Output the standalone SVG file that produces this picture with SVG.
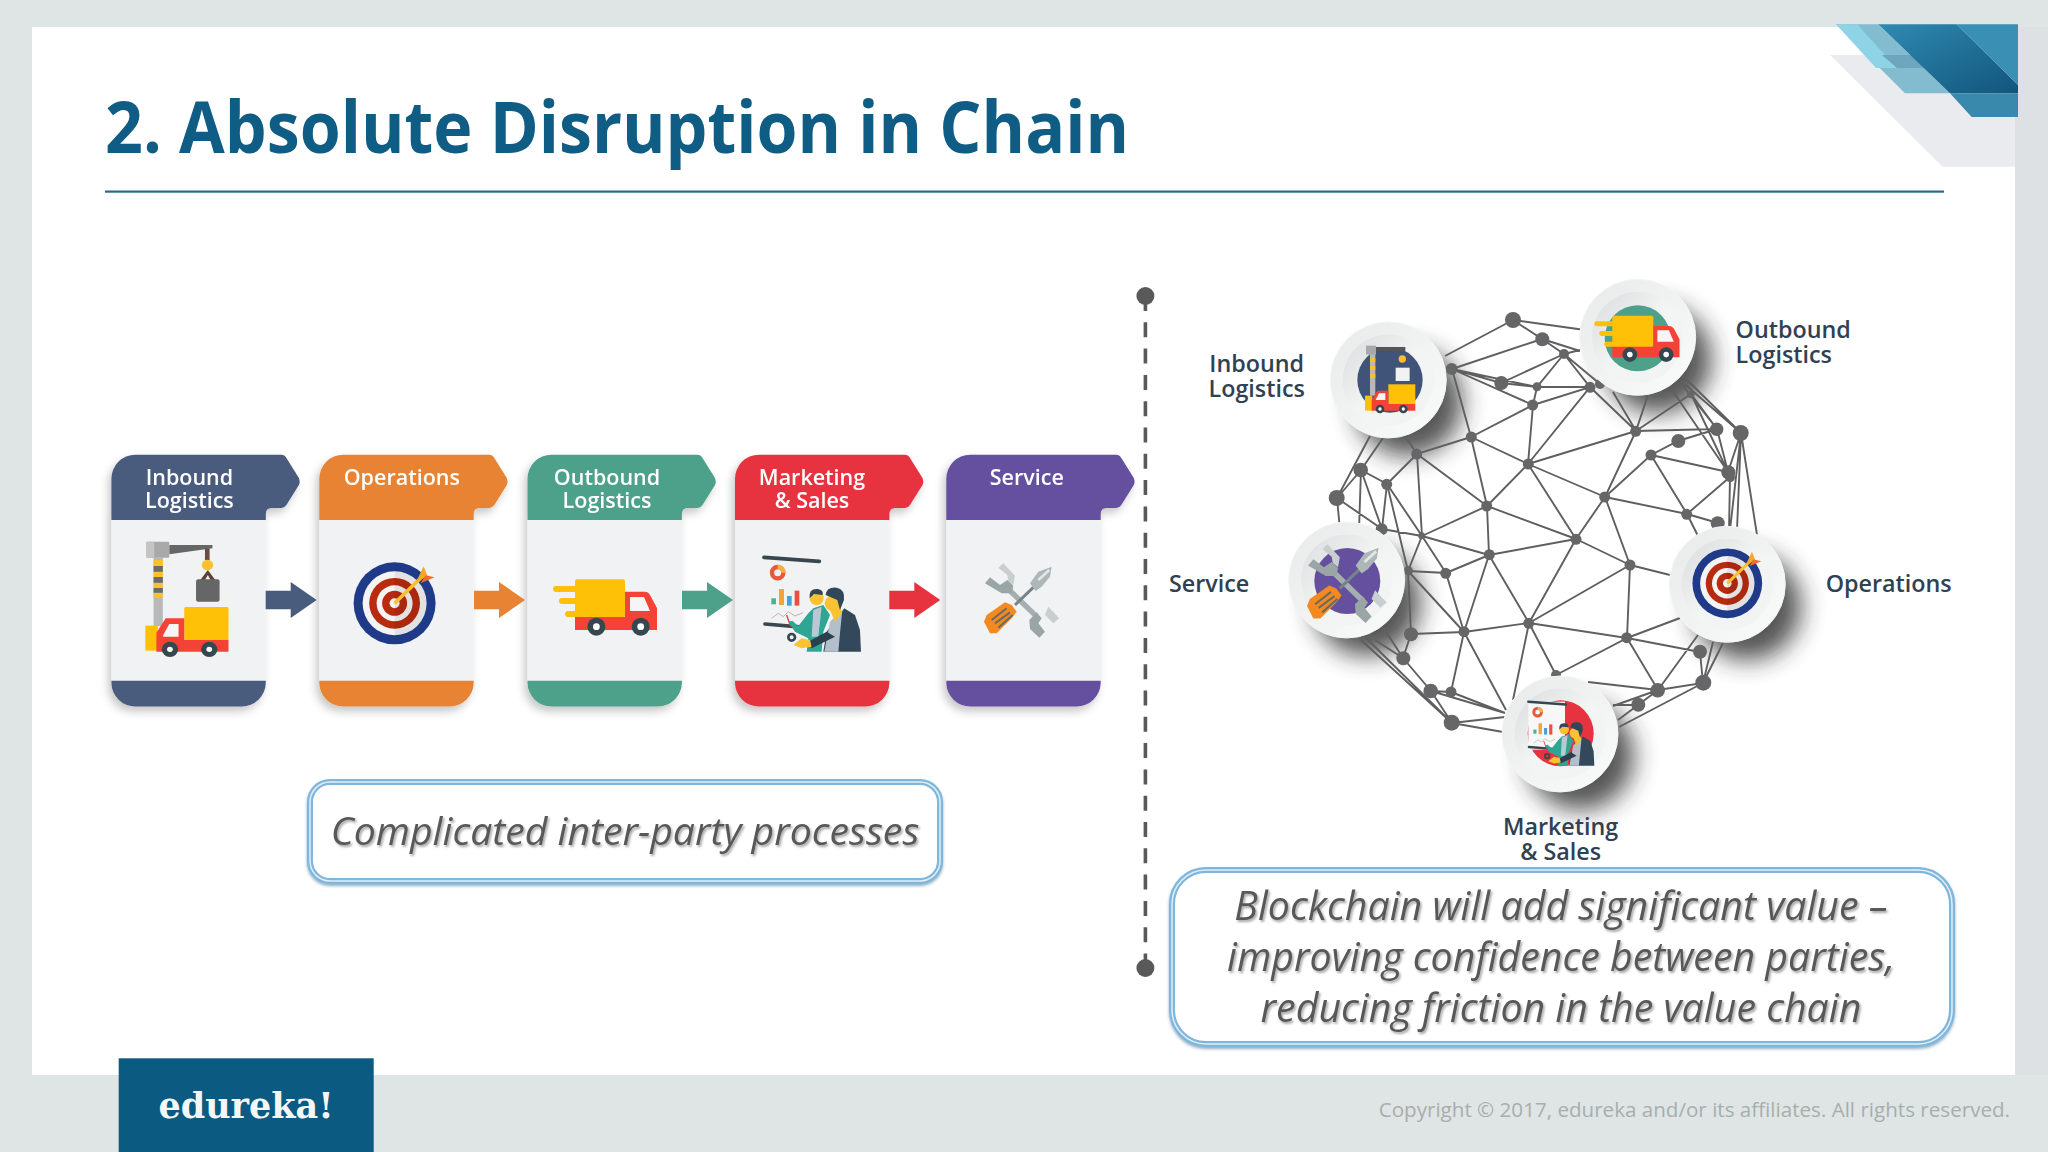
<svg xmlns="http://www.w3.org/2000/svg" width="2048" height="1152" viewBox="0 0 2048 1152">
<style>
text{font-family:"Open Sans","Noto Sans","Liberation Sans",sans-serif}
.title{font-size:71px;font-weight:700;fill:#0f5c85}
.cl{font-size:21.5px;font-weight:600;fill:#fff;text-anchor:middle}
.rl{font-size:23.3px;font-weight:600;fill:#2f4152}
.bt{font-style:italic;fill:#595959;text-anchor:middle;filter:url(#ts)}
.copy{font-size:20.6px;fill:#a8adad;text-anchor:end}
.net{fill:none;stroke:#5f5f60;stroke-width:1.9}
.nd circle{fill:#666668}
.box{fill:#fff;stroke:#7fb6dc;stroke-width:6;filter:url(#bs)}
.box2{fill:none;stroke:#e2eef7;stroke-width:1.5}
</style>
<defs>
<filter id="ts" x="-5%" y="-20%" width="110%" height="140%"><feDropShadow dx="1.5" dy="2" stdDeviation="1.2" flood-color="#000" flood-opacity=".35"/></filter>
<filter id="bs" x="-5%" y="-10%" width="110%" height="120%"><feDropShadow dx="0" dy="2" stdDeviation="1.5" flood-color="#2f6d99" flood-opacity=".55"/></filter>
<filter id="cs" x="-10%" y="-10%" width="120%" height="120%"><feDropShadow dx="-3" dy="5" stdDeviation="4" flood-color="#000" flood-opacity=".22"/></filter>
<filter id="ps" x="-60%" y="-60%" width="220%" height="220%"><feGaussianBlur stdDeviation="12"/></filter>
<linearGradient id="po" x1="0" y1="0" x2="1" y2="1"><stop offset="0" stop-color="#e8eaea"/><stop offset="1" stop-color="#fafbfb"/></linearGradient>
<linearGradient id="pi" x1="0" y1="0" x2="1" y2="1"><stop offset="0" stop-color="#d9dddd"/><stop offset=".5" stop-color="#f3f4f4"/><stop offset="1" stop-color="#f1f2f2"/></linearGradient>
<linearGradient id="bl" x1="0" y1="0" x2="1" y2="1"><stop offset="0" stop-color="#2f8ab2"/><stop offset="1" stop-color="#12557c"/></linearGradient>
<path id="hdr" d="M0 520V479A24 24 0 0 1 24 454.7H170Q173 454.7 175 458L187.5 478Q189 482 187.5 485L175 505Q173 508 170 508H160Q154.4 508 154.4 514V520Z"/>
<path id="ftr" d="M0 680.7H154.4V683A24 24 0 0 1 130 706.5H24A24 24 0 0 1 0 683Z"/>
<path id="arr" d="M0 -9.2H25V-18L51 0L25 18V9.2H0Z"/>
<g id="plate">
<circle r="58" fill="url(#po)" stroke="#f4f5f5" stroke-width="1"/>
<circle r="45.5" fill="url(#pi)"/>
</g>
<g id="shadow"><circle cx="20" cy="22" r="54" fill="#2b2b2b" opacity=".8" filter="url(#ps)"/></g>
<g id="target">
<circle r="41" fill="#1f3a88"/><circle r="32" fill="#f4f4f4"/><circle r="25.4" fill="#b92b0e"/><circle r="18" fill="#f4f4f4"/><circle r="12.5" fill="#b92b0e"/><circle r="5" fill="#f4f4f4"/>
<path d="M0 -32A32 32 0 0 1 0 32Z" fill="#000" opacity=".07"/>
<path d="M0 0L29 -28" stroke="#fbc02d" stroke-width="3.6"/>
<path d="M22 -22L29 -37L33 -27Z" fill="#f9a825"/><path d="M26 -20L40 -26L31 -28Z" fill="#ef6c2c"/>
</g>
<g id="ftruck">
<path d="M556 589H575M562 601H575M568 614H575" stroke="#ffc107" stroke-width="6" stroke-linecap="round"/>
<rect x="575" y="579.3" width="50" height="38" rx="2" fill="#ffc107"/>
<path d="M575 617H625V591.7H645Q648 591.7 650 595L657 608V630H575Z" fill="#f44336"/>
<path d="M630 597H644L650 611H630Z" fill="#f5f5f5"/>
<circle cx="596.4" cy="626.7" r="9" fill="#37474f"/><circle cx="596.4" cy="626.7" r="3.4" fill="#fff"/>
<circle cx="640.7" cy="626.7" r="9" fill="#37474f"/><circle cx="640.7" cy="626.7" r="3.4" fill="#fff"/>
</g>
<g id="tools">
<path d="M85 38L100 25L135 62L130 90L115 78L112 60Z" fill="#c9cfcf"/>
<path d="M235 155L268 190L250 205L225 180Z" fill="#c9cfcf"/>
<path d="M118 105L200 185" stroke="#a5afaf" stroke-width="16"/>
<path d="M45 85L60 67L90 90L112 75L130 92L125 115L95 115Z" fill="#9aa5a5"/>
<path d="M178 195L200 172L215 190L205 205L225 230L208 248L180 222Z" fill="#9aa5a5"/>
<path d="M135 150L190 97" stroke="#76838a" stroke-width="9"/>
<path d="M180 85L205 50L245 35L240 65L215 95L197 108Z" fill="#aeb7b7"/>
<path d="M205 75L238 45" stroke="#e2e6e6" stroke-width="8"/>
<path d="M42 200L50 180L105 142L125 150L140 170L125 190L80 235L60 235Z" fill="#f28a21"/>
<path d="M65 195L110 160M75 205L120 172M85 218L128 180" stroke="#6b6a60" stroke-width="6"/>
</g>
<g id="present">
<path d="M372 352L538 364" stroke="#37474f" stroke-width="11" stroke-linecap="round"/>
<circle cx="413" cy="398" r="17" fill="none" stroke="#e8593c" stroke-width="13"/>
<path d="M413 381A17 17 0 0 1 430 398" fill="none" stroke="#f5b041" stroke-width="13"/>
<rect x="394" y="475" width="14" height="18" fill="#4db38f"/><rect x="417" y="447" width="15" height="48" fill="#f2a33a"/><rect x="441" y="468" width="14" height="29" fill="#4a9fd8"/><rect x="464" y="452" width="14" height="45" fill="#e8503f"/>
<path d="M395 535L415 520L430 530L445 515L465 528L490 518" fill="none" stroke="#b5a5a5" stroke-width="2.5"/>
<path d="M375 552L495 562" stroke="#37474f" stroke-width="11" stroke-linecap="round"/>
<circle cx="455" cy="592" r="10" fill="none" stroke="#37474f" stroke-width="8"/>
<path d="M440 525L452 560" stroke="#e53935" stroke-width="4"/>
<path d="M520 505L550 495L570 525L550 575L545 635H500L505 595L465 575L445 545L457 542L475 558L505 520Z" fill="#2fa593"/>
<path d="M520 510L545 500L535 590L515 590Z" fill="#b7c9d4"/>
<path d="M550 635L560 575L613 505L645 525L660 570L663 635Z" fill="#33485a"/>
<path d="M553 635L570 545L607 510L600 580L595 635Z" fill="#b3c0cc"/>
<path d="M505 605L560 575L585 590L515 625Z" fill="#2c3f4f"/>
<path d="M460 615L485 595L510 600L515 620L485 625Z" fill="#f9c233"/>
<circle cx="530" cy="475" r="21" fill="#f9c233"/><path d="M509 475Q505 445 533 447Q552 450 548 465L522 462Z" fill="#314656"/>
<path d="M570 510L600 490L605 520L585 545Z" fill="#f9c233"/>
<circle cx="577" cy="490" r="23" fill="#f9c233"/><path d="M557 465Q560 440 590 443Q615 447 612 480L600 510L592 480Z" fill="#314656"/>
</g>
</defs>

<rect width="2048" height="1152" fill="#dfe5e4"/>
<rect x="2015" y="27" width="33" height="1048" fill="#dde1e4"/>
<rect x="32" y="27" width="1983" height="1048" fill="#fff"/>

<g id="corner">
<path d="M1830 55H2015V166.7H1942.7Z" fill="#e9ebef"/>
<path d="M1836 24.3H1878.3L1950 93.3H1905Z" fill="#84bccf"/>
<path d="M1836 24.3H1857L1897 68H1876Z" fill="#8fd3e6"/>
<path d="M1882 55H1913L1927 68H1897Z" fill="#6ea6bd"/>
<path d="M1878.3 24.3H1956.7L2018 85V93.3H1950Z" fill="url(#bl)"/>
<path d="M1956.7 24.3H2018V85Z" fill="#3a8fb5"/>
<path d="M1950 93.3H2018V117H1971.7Z" fill="#3889ab"/>
</g>

<text class="title" x="105" y="153" textLength="1024" lengthAdjust="spacingAndGlyphs">2. Absolute Disruption in Chain</text>
<rect x="105" y="190.5" width="1839" height="2.2" fill="#2a6a85"/>

<g id="card-inbound" transform="translate(111.4 0)" filter="url(#cs)">
<rect y="518" width="154.4" height="165" fill="#f1f2f3"/><use href="#hdr" fill="#4a5c7e"/><use href="#ftr" fill="#4a5c7e"/>
<text class="cl"><tspan x="78" y="485">Inbound</tspan><tspan x="78" y="508">Logistics</tspan></text>
</g>
<g id="card-operations" transform="translate(319.3 0)" filter="url(#cs)">
<rect y="518" width="154.4" height="165" fill="#f1f2f3"/><use href="#hdr" fill="#e78332"/><use href="#ftr" fill="#e78332"/>
<text class="cl" x="82.5" y="485">Operations</text>
</g>
<g id="card-outbound" transform="translate(527.5 0)" filter="url(#cs)">
<rect y="518" width="154.4" height="165" fill="#f1f2f3"/><use href="#hdr" fill="#4da18b"/><use href="#ftr" fill="#4da18b"/>
<text class="cl"><tspan x="79.5" y="485">Outbound</tspan><tspan x="79.5" y="508">Logistics</tspan></text>
</g>
<g id="card-marketing" transform="translate(735 0)" filter="url(#cs)">
<rect y="518" width="154.4" height="165" fill="#f1f2f3"/><use href="#hdr" fill="#e73340"/><use href="#ftr" fill="#e73340"/>
<text class="cl"><tspan x="77" y="485">Marketing</tspan><tspan x="77" y="508">&amp; Sales</tspan></text>
</g>
<g id="card-service" transform="translate(946.3 0)" filter="url(#cs)">
<rect y="518" width="154.4" height="165" fill="#f1f2f3"/><use href="#hdr" fill="#65509f"/><use href="#ftr" fill="#65509f"/>
<text class="cl" x="80.5" y="485">Service</text>
</g>

<g id="icon-crane" transform="translate(90 440) scale(.357 .3333)">
<rect x="178" y="353" width="26" height="205" fill="#b8b8b8"/>
<path d="M178 360h26v18h-26zM178 395h26v16h-26zM178 428h26v16h-26zM178 458h26v16h-26z" fill="#fbc02d"/>
<path d="M178 378h26v17h-26zM178 411h26v17h-26zM178 444h26v14h-26z" fill="#6b6b6b"/>
<path d="M222 315H343V325L222 343Z" fill="#666"/>
<rect x="158" y="305" width="64" height="48" rx="3" fill="#a9a9a9"/><rect x="158" y="305" width="22" height="48" rx="3" fill="#c4c4c4"/>
<rect x="322" y="325" width="13" height="35" fill="#6d4c41"/>
<path d="M330 390L309 420H351Z" fill="#5d4037"/><path d="M330 405L322 420H338Z" fill="#eee"/>
<circle cx="329" cy="375" r="16" fill="#fbc02d"/>
<rect x="297" y="418" width="66" height="67" rx="6" fill="#666"/>
<rect x="264" y="501" width="124" height="100" rx="4" fill="#ffc107"/>
<rect x="155" y="557" width="35" height="75" fill="#ffc107"/>
<path d="M186 635V578L212 535H264V600H388V635Z" fill="#f44336"/>
<path d="M205 585L222 552H248V590H205Z" fill="#f5f5f5"/>
<circle cx="224" cy="628" r="23" fill="#37474f"/><circle cx="224" cy="628" r="8" fill="#fff"/>
<circle cx="334" cy="628" r="23" fill="#37474f"/><circle cx="334" cy="628" r="8" fill="#fff"/>
</g>
<use id="icon-target" href="#target" transform="translate(394.6 603.3)"/>
<use id="icon-truck" href="#ftruck"/>
<use id="icon-present" href="#present" transform="translate(640 440) scale(.3333)"/>
<use id="icon-tools" href="#tools" transform="translate(970 555) scale(.3333)"/>

<g id="connectors">
<use href="#arr" transform="translate(265.7 600)" fill="#4a5c7e"/>
<use href="#arr" transform="translate(474 600)" fill="#e78332"/>
<use href="#arr" transform="translate(682 600)" fill="#4da18b"/>
<use href="#arr" transform="translate(889.3 600)" fill="#e73340"/>
<path d="M1145.4 296V968" fill="none" stroke="#595959" stroke-width="3.6" stroke-dasharray="15 11.3"/>
</g>
<g id="divider-ends" fill="#595959"><circle cx="1145.4" cy="296" r="9"/><circle cx="1145.4" cy="968" r="9"/></g>

<use href="#shadow" transform="translate(1388.3 380)"/>
<use href="#shadow" transform="translate(1637.7 337.3)"/>
<use href="#shadow" transform="translate(1727.3 584.3)"/>
<use href="#shadow" transform="translate(1346.7 580)"/>
<use href="#shadow" transform="translate(1560 734)"/>

<g id="network">
<path class="net" d="M1513 320L1445 356M1513 320L1585 330M1513 320L1542 339L1564 354M1542 339L1580 351M1564 354L1580 350M1452 369L1542 339M1452 369L1501 383L1564 354M1452 369L1537 387M1452 369L1533 405M1501 383L1537 387M1564 354L1537 387L1533 405M1537 387L1590 387M1564 354L1590 387L1636 431M1564 354L1600 384M1613 392L1636 431M1648 395L1636 431L1691 394M1636 431L1717 429M1636 431L1528 464M1636 431L1605 497M1533 405L1590 387L1528 464M1533 405L1471 437M1533 405L1528 464M1452 369L1471 437L1417 454L1405 436M1471 437L1528 464M1471 437L1487 506M1417 454L1487 506M1417 454L1387 484M1417 454L1422 536M1528 464L1487 506M1528 464L1605 497M1528 464L1576 539M1487 506L1422 536M1487 506L1489 555M1487 506L1576 539M1605 497L1576 539M1605 497L1687 514M1605 497L1651 455L1678 441L1717 429M1605 497L1630 565M1651 455L1728 472M1651 455L1687 514L1730 477M1687 514L1718 523M1687 514L1700 540M1576 539L1489 555M1576 539L1630 565M1576 539L1529 623M1630 565L1690 580M1630 565L1529 623M1630 565L1627 638M1489 555L1422 536M1489 555L1446 573M1489 555L1464 632M1489 555L1529 623M1422 536L1446 573M1422 536L1408 571M1422 536L1387 484L1361 470M1387 484L1382 529M1387 484L1408 571M1361 470L1382 529M1361 470L1337 498M1361 470L1383 438M1361 470L1359 530M1337 498L1370 436M1337 498L1382 529M1337 498L1340 530M1382 529L1422 536M1408 571L1446 573L1464 632M1408 571L1464 632M1408 571L1411 634L1403 658M1411 634L1464 632M1464 632L1451 692M1464 632L1506 710M1464 632L1529 623M1529 623L1513 700M1529 623L1556 675M1529 623L1627 638L1556 675M1627 638L1658 690M1627 638L1700 652M1627 638L1680 618M1658 690L1588 682M1658 690L1703 683L1700 652M1658 690L1698 635M1658 690L1638 705L1613 705M1658 690L1613 706M1703 683L1713 642M1703 683L1723 643M1703 683L1619 727M1638 705L1618 720M1403 658L1431 691L1452 723M1403 658L1383 627M1403 658L1375 640M1431 691L1505 713M1451 692L1505 713M1451 692L1431 691M1452 723L1505 717M1452 723L1503 732M1452 723L1365 637M1452 723L1361 640M1728 472L1717 429M1728 472L1741 433M1691 394L1728 472M1672 390L1728 472M1741 433L1683 376M1741 433L1680 380M1717 429L1680 382M1691 394L1717 429M1741 433L1730 530M1741 433L1737 530M1741 433L1757 535M1730 477L1729 530"/>
<g class="nd">
<circle cx="1513" cy="320" r="8"/><circle cx="1542.3" cy="339.3" r="7"/><circle cx="1564" cy="354" r="5"/><circle cx="1451.7" cy="369" r="6"/><circle cx="1501.3" cy="383" r="7"/><circle cx="1537" cy="386.7" r="4.5"/><circle cx="1590" cy="387.3" r="5.5"/><circle cx="1600" cy="384" r="5"/><circle cx="1532.7" cy="405" r="5.5"/><circle cx="1690.7" cy="394.3" r="3.8"/><circle cx="1635.7" cy="431.3" r="5.5"/><circle cx="1716.7" cy="429.3" r="6.7"/><circle cx="1740.7" cy="433" r="8"/><circle cx="1678.3" cy="441" r="7"/><circle cx="1651" cy="455" r="5.5"/><circle cx="1471.3" cy="437" r="5.5"/><circle cx="1416.7" cy="454" r="5.5"/><circle cx="1528.3" cy="464" r="5.5"/><circle cx="1360.7" cy="470" r="7.3"/><circle cx="1730" cy="477.3" r="5"/><circle cx="1728.3" cy="472.3" r="7"/><circle cx="1386.7" cy="484.3" r="5.5"/><circle cx="1336.7" cy="498" r="8"/><circle cx="1604.7" cy="497" r="5.5"/><circle cx="1486.7" cy="506" r="5.5"/><circle cx="1686.7" cy="514.3" r="5.5"/><circle cx="1717.7" cy="523.3" r="7"/><circle cx="1381.7" cy="529.3" r="6"/><circle cx="1421.7" cy="535.7" r="3.5"/><circle cx="1576" cy="539.3" r="5.5"/><circle cx="1489.3" cy="554.7" r="5.5"/><circle cx="1630" cy="565" r="5.5"/><circle cx="1445.7" cy="573.3" r="5.5"/><circle cx="1408.3" cy="570.7" r="4.7"/><circle cx="1411" cy="634.3" r="7"/><circle cx="1464" cy="631.7" r="5.5"/><circle cx="1528.7" cy="623.3" r="5.5"/><circle cx="1626.7" cy="637.7" r="5.5"/><circle cx="1700" cy="651.7" r="7"/><circle cx="1403.3" cy="658.3" r="7"/><circle cx="1430.7" cy="691" r="7.3"/><circle cx="1451" cy="692" r="5.5"/><circle cx="1657.7" cy="690.3" r="7.3"/><circle cx="1703.3" cy="682.7" r="8"/><circle cx="1638.3" cy="704.7" r="7"/><circle cx="1451.7" cy="722.7" r="8"/><circle cx="1556" cy="675" r="5"/>
</g>
</g>

<g id="node-inbound">
<use href="#plate" transform="translate(1388.3 380)"/>
<g transform="translate(1270 260) scale(.3333)">
<circle cx="360" cy="360" r="98" fill="#3f5478"/>
<rect x="300" y="282" width="16" height="125" fill="#b8b8b8"/><path d="M300 295h16v12h-16zM300 318h16v12h-16zM300 342h16v12h-16z" fill="#fbc02d"/>
<rect x="288" y="257" width="30" height="27" fill="#a9a9a9"/><rect x="318" y="261" width="88" height="13" fill="#555"/>
<circle cx="397" cy="297" r="11" fill="#fbc02d"/><rect x="377" y="323" width="42" height="40" fill="#f2f2f2"/>
<rect x="355" y="373" width="81" height="60" fill="#ffc107"/><rect x="285" y="407" width="22" height="45" fill="#ffc107"/>
<path d="M305 452V420L322 392H355V432H436V452Z" fill="#f44336"/><path d="M317 420L327 400H346V420Z" fill="#f5f5f5"/>
<circle cx="330" cy="447" r="13" fill="#37474f"/><circle cx="330" cy="447" r="5" fill="#fff"/><circle cx="400" cy="447" r="13" fill="#37474f"/><circle cx="400" cy="447" r="5" fill="#fff"/>
</g>
<text class="rl" text-anchor="middle"><tspan x="1256.7" y="372">Inbound</tspan><tspan x="1256.7" y="397">Logistics</tspan></text>
</g>
<g id="node-outbound">
<use href="#plate" transform="translate(1637.7 337.3)"/>
<circle cx="1637.7" cy="338.3" r="33" fill="#4da18b"/>
<use href="#ftruck" transform="translate(1140.8 -159.3) scale(.82)"/>
<text class="rl"><tspan x="1735.6" y="338.3">Outbound</tspan><tspan x="1735.6" y="363">Logistics</tspan></text>
</g>
<g id="node-operations">
<use href="#plate" transform="translate(1727.3 584.3)"/>
<use href="#target" transform="translate(1727.3 583.3) scale(.85)"/>
<text class="rl" x="1825.7" y="591.7">Operations</text>
</g>
<g id="node-service">
<use href="#plate" transform="translate(1346.7 580)"/>
<circle cx="1347.3" cy="581" r="33" fill="#65509f"/>
<use href="#tools" transform="translate(1292.2 535.5) scale(.3527)"/>
<text class="rl" x="1169" y="591.7">Service</text>
</g>
<g id="node-marketing">
<use href="#plate" transform="translate(1560 734)"/>
<circle cx="1560.7" cy="733.3" r="33" fill="#e73340"/>
<rect x="1528.3" y="701.7" width="36.7" height="48" fill="#f7f7f7"/>
<use href="#present" transform="translate(1444 621.9) scale(.2267)"/>
<text class="rl" text-anchor="middle"><tspan x="1560.6" y="834.5">Marketing</tspan><tspan x="1560.6" y="860">&amp; Sales</tspan></text>
</g>

<g id="box-left">
<rect class="box" x="310" y="782" width="630" height="99" rx="20"/>
<rect class="box2" x="310" y="782" width="630" height="99" rx="20"/>
<text class="bt" x="625" y="845" font-size="39.2">Complicated inter-party processes</text>
</g>
<g id="box-right">
<rect class="box" x="1172" y="870" width="780" height="174" rx="34"/>
<rect class="box2" x="1172" y="870" width="780" height="174" rx="34"/>
<text class="bt" x="1561" y="920" font-size="39.3">Blockchain will add significant value –</text>
<text class="bt" x="1561" y="971" font-size="39.3">improving confidence between parties,</text>
<text class="bt" x="1561" y="1022" font-size="39.3">reducing friction in the value chain</text>
</g>

<g id="logo">
<rect x="118.7" y="1058.3" width="255" height="94" fill="#0a5a82"/>
<text x="246" y="1118" text-anchor="middle" fill="#f4f7f8" font-size="35" font-weight="700" style="font-family:'DejaVu Serif',serif">edureka!</text>
</g>
<text class="copy" x="2010" y="1117">Copyright © 2017, edureka and/or its affiliates. All rights reserved.</text>
</svg>
